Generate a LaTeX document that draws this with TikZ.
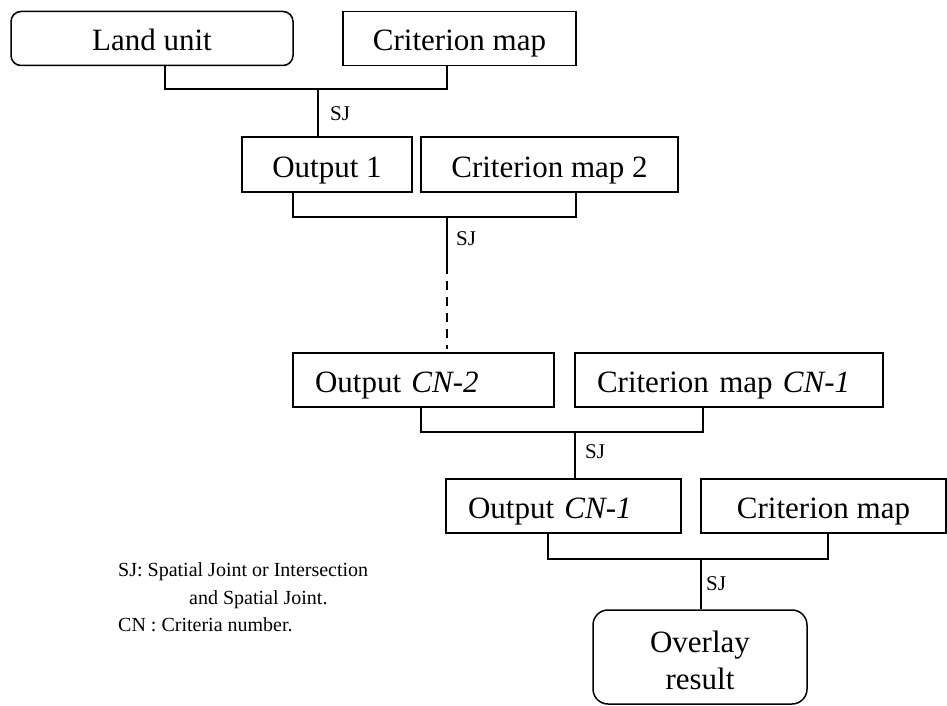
\documentclass[tikz,border=0pt]{standalone}
\usepackage{fontspec}
\setmainfont{Liberation Serif}
\usetikzlibrary{calc}
\tikzset{
  boxbase/.style={draw, line width=1.5pt, inner sep=0pt, font=\fontsize{31}{37}\selectfont,
    text height=25pt, text depth=0pt},
  cbox/.style={boxbase, align=center},
  lbox/.style={boxbase, align=left, inner xsep=22pt},
  rbox/.style={boxbase, rounded corners=10pt, align=center},
  link/.style={line width=1.5pt},
  dashlink/.style={line width=1.5pt, dash pattern=on 9pt off 7pt},
  sjlabel/.style={anchor=base west, inner sep=0pt, font=\fontsize{21}{24}\selectfont},
  legend/.style={anchor=base west, inner sep=0pt, font=\fontsize{20}{24}\selectfont}
}
\begin{document}
\begin{tikzpicture}[x=1pt,y=-1pt]
\useasboundingbox (0,0) rectangle (947,706);

% row 1
\node[rbox, minimum width=282pt, minimum height=54pt] (land) at (152,38.5) {Land unit};
\node[cbox, minimum width=233pt, minimum height=54pt] (crit1) at (459.5,38.5) {Criterion map};
% row 2
\node[cbox, minimum width=170pt, minimum height=55pt] (out1) at (327,164.5) {Output 1};
\node[cbox, minimum width=257pt, minimum height=55pt] (crit2) at (549.5,164.5) {Criterion map 2};
% row 3
\node[lbox, text width=217pt, minimum height=54pt] (outcn2) at (423.5,380) {Output \textit{CN-2}};
\node[lbox, text width=264pt, minimum height=54pt] (critcn1) at (729,380) {Criterion map \textit{CN-1}};
% row 4
\node[lbox, text width=191pt, minimum height=54pt] (outcn1) at (563.5,506) {Output \textit{CN-1}};
\node[cbox, minimum width=245pt, minimum height=54pt] (crit3) at (823.5,506) {Criterion map};
% result
\node[draw, line width=1.5pt, rounded corners=15pt, minimum width=214pt, minimum height=94pt,
  inner sep=0pt, align=center, font=\fontsize{31}{37}\selectfont] (overlay) at (700,657)
  {\rule{0pt}{29pt}Overlay\\result};

% junctions
\coordinate (j1) at (318,89);
\coordinate (j2) at (447,217);
\coordinate (d2) at (447,265);
\coordinate (d3) at (447,349);
\coordinate (j3) at (575,432);
\coordinate (j4) at (701,559);

\draw[link] ($(land.south)+(13,0)$) |- (j1) -| ($(crit1.south)+(-12.5,0)$);
\draw[link] (j1) -- (out1.north -| j1);
\draw[link] ($(out1.south)+(-34,0)$) |- (j2) -| ($(crit2.south)+(26.5,0)$);
\draw[link] (j2) -- (d2);
\draw[dashlink] (d2) -- (d3);
\draw[link] ($(outcn2.south)+(-2.5,0)$) |- (j3) -| ($(critcn1.south)+(-26,0)$);
\draw[link] (j3) -- (outcn1.north -| j3);
\draw[link] ($(outcn1.south)+(-15.5,0)$) |- (j4) -| ($(crit3.south)+(4.5,0)$);
\draw[link] (j4) -- (overlay.north -| j4);

% SJ labels
\node[sjlabel] (sj1) at (330,121) {SJ};
\node[sjlabel] (sj2) at (456,245) {SJ};
\node[sjlabel] (sj3) at (585,458) {SJ};
\node[sjlabel] (sj4) at (706,590) {SJ};

% legend
\node[legend] (leg1) at (118,576) {SJ: Spatial Joint or Intersection};
\node[legend] (leg2) at (189,604) {and Spatial Joint.};
\node[legend] (leg3) at (118,631) {CN : Criteria number.};
\end{tikzpicture}
\end{document}
